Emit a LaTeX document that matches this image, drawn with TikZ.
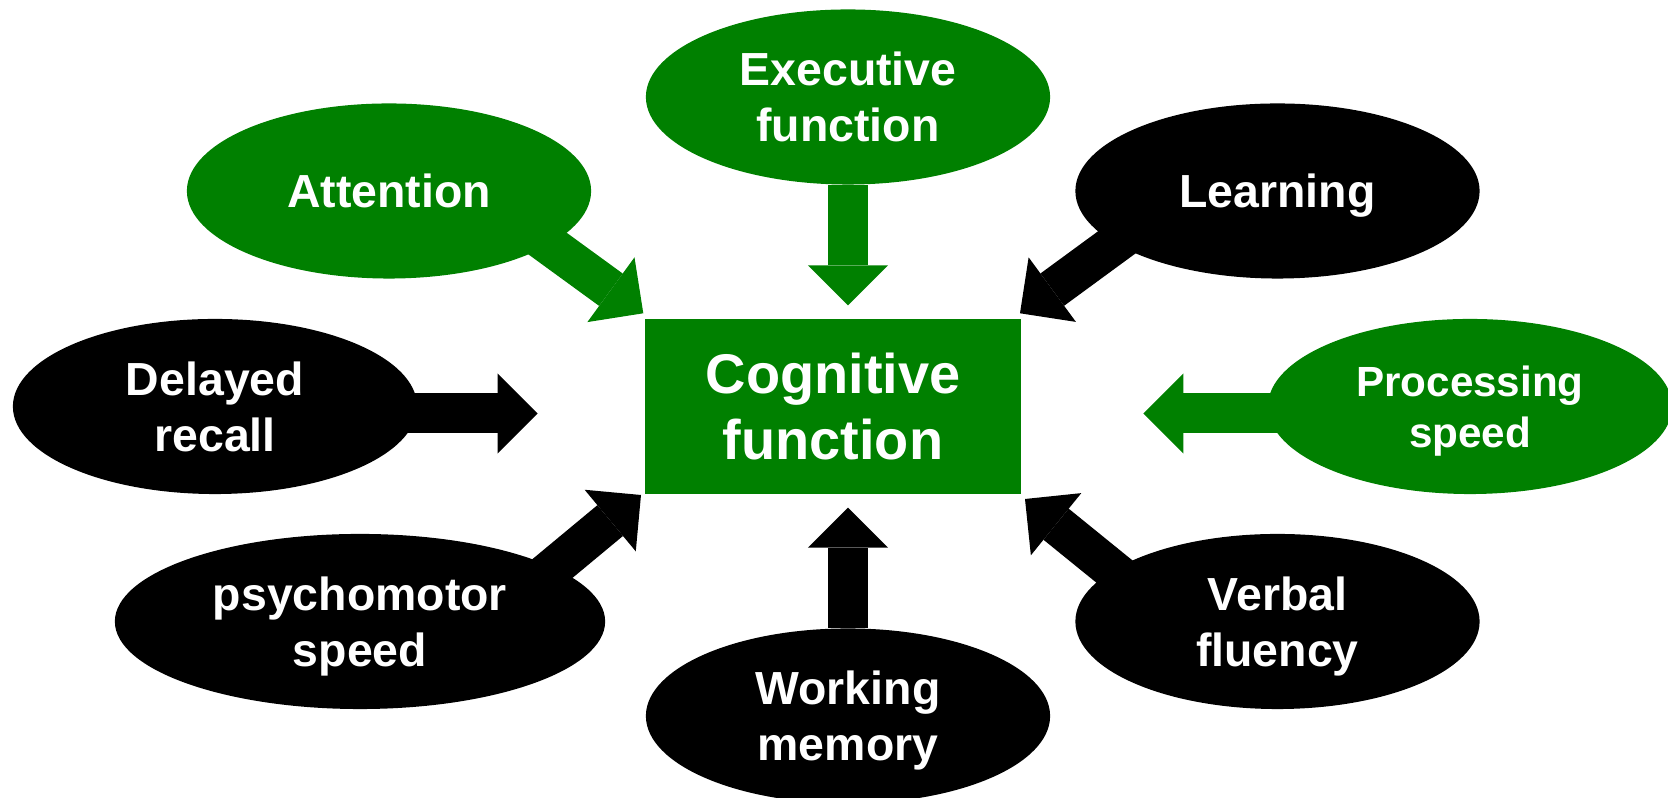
\documentclass[tikz,border=0pt]{standalone}
\usepackage{fontspec}
\setmainfont{Liberation Sans}
\usepackage{tikz}
\usetikzlibrary{shapes.geometric,arrows.meta,calc,backgrounds}
\definecolor{cgreen}{RGB}{0,128,0}

\begin{document}
\begin{tikzpicture}[x=0.01cm,y=-0.01cm]
  \tikzset{
    bubble/.style={ellipse,inner sep=0pt,minimum width=4.04cm,minimum height=1.75cm,
      text=white,align=center,text depth=0pt,font=\fontsize{13.2}{16}\selectfont\bfseries},
    gbubble/.style={bubble,fill=cgreen},
    kbubble/.style={bubble,fill=black},
    blk/.style={line width=4mm,-{Triangle[width=8mm,length=4mm,line width=0pt]}},
  }
  \useasboundingbox (0,0) rectangle (1668,798);
  % centre box
  \node[fill=cgreen,minimum width=3.76cm,minimum height=1.75cm,inner sep=0pt,text=white,align=center,
        font=\fontsize{15.9}{19}\selectfont\bfseries] (cog) at (833,406.5) {Cognitive\\function};
  % green bubbles
  \node[gbubble] (exe) at (848,97) {Executive\\function};
  \node[gbubble] (att) at (389,191) {Attention};
  \node[gbubble,font=\fontsize{12}{14.6}\selectfont\bfseries] (proc) at (1470,406.5) {Processing\\speed};
  % black bubbles
  \node[kbubble] (lrn) at (1277.5,191) {Learning};
  \node[kbubble] (del) at (215,406.5) {Delayed\\recall};
  \node[kbubble,minimum width=4.9cm] (psy) at (360,621.5) {psychomotor\\speed};
  \node[kbubble] (wm) at (848,716) {Working\\memory};
  \node[kbubble] (vrb) at (1277.5,621.5) {Verbal\\fluency};
  % arrow tips
  \coordinate (exeTip) at (848,305.5);
  \coordinate (wmTip) at (848,507.7);
  \coordinate (delTip) at (537.7,413.5);
  \coordinate (procTip) at (1143.3,413.5);
  \coordinate (attTip) at (643.3,313.3);
  \coordinate (lrnTip) at (1020,313.3);
  \coordinate (psyTip) at (641,495);
  \coordinate (vrbTip) at (1025,499);
  \begin{scope}[on background layer]
    \draw[blk,draw=cgreen] (exe) -- (exeTip);
    \draw[blk,draw=cgreen] ($(att)+(133,34)$) -- (attTip);
    \draw[blk,draw=cgreen] (proc |- procTip) -- (procTip);
    \draw[blk] ($(lrn)+(-137,34)$) -- (lrnTip);
    \draw[blk] (del |- delTip) -- (delTip);
    \draw[blk] ($(psy)+(166,-31)$) -- (psyTip);
    \draw[blk] (wm) -- (wmTip);
    \draw[blk] ($(vrb)+(-136,-28)$) -- (vrbTip);
  \end{scope}
\end{tikzpicture}
\end{document}
